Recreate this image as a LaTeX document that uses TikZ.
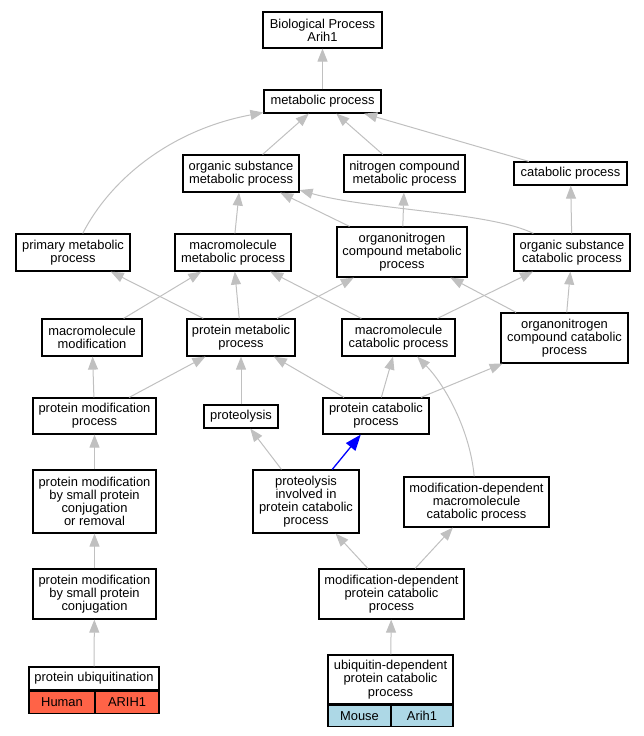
\documentclass[tikz,border=0pt]{standalone}
\usepackage{fontspec}
\setmainfont{Liberation Sans}
\usetikzlibrary{arrows.meta}

\definecolor{edgegray}{RGB}{192,192,192}
\definecolor{human}{RGB}{255,99,71}
\definecolor{mouse}{RGB}{173,216,230}
\newcommand{\termfont}{\fontsize{12.9}{13.2}\selectfont}

\tikzstyle{term}=[draw=black,line width=1.2pt,rectangle,inner sep=0pt,align=center,font=\termfont]
\tikzstyle{cell}=[term]
\tikzstyle{edge} = [draw=edgegray,line width=1pt,-{Triangle[length=13pt,width=10pt]}]
\tikzstyle{hit} = [draw=blue,line width=1.3pt,-{Triangle[length=16pt,width=12pt]}]

\begin{document}
\begin{tikzpicture}[x=1pt, y=-1pt]
    \useasboundingbox (0,0) rectangle (644,736);
    % First we draw the terms
    \foreach \pos/\name/\bw/\bh/\txt in {
        {(322.5,30)/bio/119/36/{Biological Process\\Arih1}},
        {(322.5,101.5)/met/117/23/{metabolic process}},
        {(241,173.5)/osm/116/37/{organic substance\\metabolic process}},
        {(404.5,173.5)/ncm/121/37/{nitrogen compound\\metabolic process}},
        {(570.5,173.5)/cat/113/23/{catabolic process}},
        {(73,252.5)/prim/114/37/{primary metabolic\\process}},
        {(233,252.5)/mm/116/37/{macromolecule\\metabolic process}},
        {(402,252)/ocm/130/50/{organonitrogen\\compound metabolic\\process}},
        {(572,252.5)/osc/116/37/{organic substance\\catabolic process}},
        {(92,337.5)/mmod/100/37/{macromolecule\\modification}},
        {(241,337.5)/pm/108/37/{protein metabolic\\process}},
        {(398.5,337.5)/mc/113/37/{macromolecule\\catabolic process}},
        {(564.5,338)/occ/127/50/{organonitrogen\\compound catabolic\\process}},
        {(94.5,416)/pmp/123/36/{protein modification\\process}},
        {(241,416.5)/prot/74/23/{proteolysis}},
        {(376,416)/pc/106/36/{protein catabolic\\process}},
        {(94.5,501.5)/pmsr/123/63/{protein modification\\by small protein\\conjugation\\or removal}},
        {(306,501.5)/pi/106/63/{proteolysis\\involved in\\protein catabolic\\process}},
        {(476.5,502)/mdmc/145/50/{modification-dependent\\macromolecule\\catabolic process}},
        {(94.5,594)/pms/123/50/{protein modification\\by small protein\\conjugation}},
        {(391.5,594)/mdpc/145/50/{modification-dependent\\protein catabolic\\process}},
        {(94,678.5)/ubiq/130/23/{protein ubiquitination}},
        {(390.5,679.5)/udpc/125/49/{ubiquitin-dependent\\protein catabolic\\process}}}
        \node[term,minimum width=\bw,minimum height=\bh] (\name) at \pos {\txt};
    % Annotation rows under the leaf terms
    \node[cell,fill=human,minimum width=66,minimum height=22,anchor=north west] (ubiqorg) at (ubiq.south west) {Human};
    \node[cell,fill=human,minimum width=64,minimum height=22,anchor=north east] (ubiqgene) at (ubiq.south east) {ARIH1};
    \node[cell,fill=mouse,minimum width=63,minimum height=21,anchor=north west] (udpcorg) at (udpc.south west) {Mouse};
    \node[cell,fill=mouse,minimum width=62,minimum height=21,anchor=north east] (udpcgene) at (udpc.south east) {Arih1};
    % Connect child terms to parent terms
    \foreach \source/ \dest in {met/bio,osm/met,ncm/met,cat/met,mm/osm,ocm/osm,ocm/ncm,
        osc/cat,pm/prim,mmod/mm,pm/mm,mc/mm,pm/ocm,mc/osc,occ/ocm,occ/osc,pmp/mmod,
        pmp/pm,prot/pm,pc/pm,pc/mc,pc/occ,pmsr/pmp,pi/prot,pms/pmsr,mdpc/pi,mdpc/mdmc,
        ubiq/pms,udpc/mdpc}
        \path[edge] (\source) -- (\dest);
    \path[edge] (prim) .. controls (110,180) and (170,130) .. (met);
    \path[edge] (osc) .. controls (490,212) and (370,210) .. (osm);
    \path[edge] (mdmc) .. controls (470,430) and (445,385) .. (mc);
    \path[hit] (pi) -- (pc);
\end{tikzpicture}
\end{document}
